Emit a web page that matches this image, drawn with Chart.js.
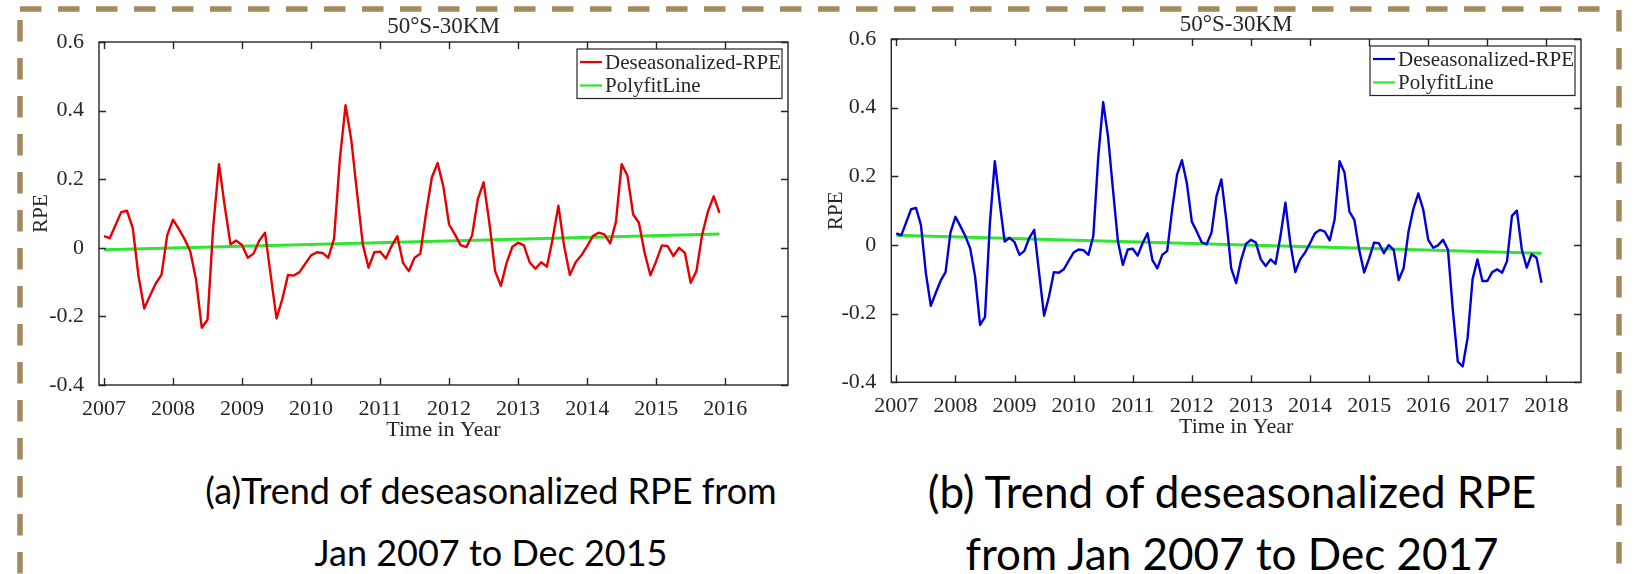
<!DOCTYPE html>
<html>
<head>
<meta charset="utf-8">
<title>Deseasonalized RPE trend</title>
<script src="https://cdn.jsdelivr.net/npm/chart.js@4.4.1/dist/chart.umd.min.js"></script>
<style>
  html, body { margin: 0; padding: 0; background: #fff; }
  body { width: 1638px; height: 574px; position: relative; overflow: hidden; }
  canvas { position: absolute; top: 0; }
  #frame { position: absolute; left: 0; top: 0; }
  .caption {
    position: absolute;
    font-family: Lato, "Open Sans", sans-serif;
    line-height: 62px;
    color: #000;
    text-align: center;
    white-space: nowrap;
    transform: translateX(-50%);
  }
  #capA { left: 491px; top: 459px; font-size: 36px; }
  #capB { left: 1232px; top: 460px; font-size: 44px; }
</style>
</head>
<body>
<svg id="frame" width="1638" height="574">
  <g stroke="#a38a5c" stroke-width="5.5" stroke-dasharray="21.5 16.5" fill="none">
    <line x1="20" y1="9" x2="1606" y2="9"/>
    <line x1="20" y1="20" x2="20" y2="574"/>
    <line x1="1619" y1="10" x2="1619" y2="574"/>
  </g>
</svg>

<canvas id="chartA" width="820" height="455" style="left:0px"></canvas>
<canvas id="chartB" width="818" height="455" style="left:820px"></canvas>

<div class="caption" id="capA">(a)Trend of deseasonalized RPE from<br>Jan 2007 to Dec 2015</div>
<div class="caption" id="capB">(b) Trend of deseasonalized RPE<br>from Jan 2007 to Dec 2017</div>

<script>
// monthly deseasonalized RPE at 50°S / 30 km, Jan 2007 .. Dec 2015
const rpe2007to2015 = [
   0.034,  0.028,  0.066,  0.104,  0.108,  0.058, -0.082, -0.177, -0.140, -0.104, -0.079,  0.037,
   0.082,  0.055,  0.026, -0.010, -0.092, -0.233, -0.210,  0.063,  0.244,  0.121,  0.010,  0.021,
   0.008, -0.029, -0.017,  0.021,  0.044, -0.082, -0.206, -0.150, -0.079, -0.081, -0.071, -0.046,
  -0.022, -0.013, -0.015, -0.029,  0.026,  0.256,  0.416,  0.314,  0.160,  0.010, -0.058, -0.013,
  -0.011, -0.031,  0.005,  0.034, -0.044, -0.068, -0.029, -0.017,  0.102,  0.205,  0.247,  0.179,
   0.068,  0.039,  0.008,  0.002,  0.036,  0.142,  0.191,  0.073, -0.068, -0.111, -0.044,  0.003,
   0.015,  0.007, -0.042, -0.061, -0.042, -0.055,  0.026,  0.123,  0.005, -0.079, -0.042, -0.022,
   0.005,  0.034,  0.044,  0.039,  0.013,  0.075,  0.244,  0.211,  0.097,  0.073, -0.015, -0.080,
  -0.039,  0.007,  0.005, -0.024,  0.000, -0.015, -0.102, -0.068,  0.039,  0.106,  0.150,  0.102
];
// Jan 2016 .. Dec 2017
const rpe2016to2017 = [
   0.015, -0.008, -0.001,  0.015, -0.013, -0.190, -0.340, -0.354, -0.270, -0.100, -0.042, -0.105,
  -0.105, -0.079, -0.071, -0.081, -0.047,  0.085,  0.100, -0.013, -0.066, -0.027, -0.037, -0.110
];

// end values of the fitted straight lines
const polyfitA = [-0.006, 0.040];
const polyfitB = [0.028, -0.024];

const startYear = 2007;
const yearTicksA = [2007, 2008, 2009, 2010, 2011, 2012, 2013, 2014, 2015, 2016];
const yearTicksB = [2007, 2008, 2009, 2010, 2011, 2012, 2013, 2014, 2015, 2016, 2017, 2018];
const rpeTicks = [-0.4, -0.2, 0, 0.2, 0.4, 0.6];
const rpeTickLabels = ['-0.4', '-0.2', '0', '0.2', '0.4', '0.6'];

const serif = '"Liberation Serif", "Times New Roman", serif';
const ink = '#262626';

function monthly(values) {
  return values.map((v, i) => ({ x: startYear + i / 12, y: v }));
}
function fitLine(values, ends) {
  const last = startYear + (values.length - 1) / 12;
  return [{ x: startYear, y: ends[0] }, { x: last, y: ends[1] }];
}

// axes box with inward ticks on all four sides
const boxTicks = {
  id: 'boxTicks',
  afterDatasetsDraw(chart) {
    const { ctx, chartArea: a, scales: { x, y } } = chart;
    const tl = 7;
    ctx.save();
    ctx.strokeStyle = ink;
    ctx.lineWidth = 1.4;
    ctx.strokeRect(a.left, a.top, a.right - a.left, a.bottom - a.top);
    ctx.beginPath();
    x.ticks.forEach(t => {
      const px = Math.round(x.getPixelForValue(t.value)) + 0.5;
      ctx.moveTo(px, a.bottom); ctx.lineTo(px, a.bottom - tl);
      ctx.moveTo(px, a.top); ctx.lineTo(px, a.top + tl);
    });
    y.ticks.forEach(t => {
      const py = Math.round(y.getPixelForValue(t.value)) + 0.5;
      ctx.moveTo(a.left, py); ctx.lineTo(a.left + tl, py);
      ctx.moveTo(a.right, py); ctx.lineTo(a.right - tl, py);
    });
    ctx.stroke();
    ctx.restore();
  }
};

// boxed legend in the upper right corner of the plot
const cornerLegend = {
  id: 'cornerLegend',
  afterDraw(chart) {
    const { ctx, chartArea: a } = chart;
    const w = 205, h = 49.5;
    const bx = a.right - 6 - w, by = a.top + 7;
    ctx.save();
    ctx.fillStyle = '#fff';
    ctx.fillRect(bx, by, w, h);
    ctx.strokeStyle = ink;
    ctx.lineWidth = 1.2;
    ctx.strokeRect(bx, by, w, h);
    ctx.font = '21px ' + serif;
    ctx.textBaseline = 'middle';
    chart.data.datasets.forEach((ds, i) => {
      const ry = by + 13 + i * 23.5;
      ctx.strokeStyle = ds.borderColor;
      ctx.lineWidth = 2.2;
      ctx.beginPath();
      ctx.moveTo(bx + 3, ry); ctx.lineTo(bx + 25, ry);
      ctx.stroke();
      ctx.fillStyle = ink;
      ctx.fillText(ds.label, bx + 28, ry + 1);
    });
    ctx.restore();
  }
};

function makeChart(id, opt) {
  const font = { family: serif, size: 22 };
  return new Chart(document.getElementById(id), {
    type: 'line',
    data: {
      datasets: [
        {
          label: 'Deseasonalized-RPE',
          data: monthly(opt.values),
          borderColor: opt.color,
          borderWidth: 2.4,
          pointRadius: 0,
          tension: 0,
          borderJoinStyle: 'round'
        },
        {
          label: 'PolyfitLine',
          data: fitLine(opt.values, opt.fit),
          borderColor: '#2ee62e',
          borderWidth: 3,
          pointRadius: 0
        }
      ]
    },
    options: {
      responsive: false,
      animation: false,
      devicePixelRatio: 1,
      layout: { padding: { left: 0, top: 0, bottom: 0, right: opt.padRight } },
      plugins: {
        legend: { display: false },
        tooltip: { enabled: false },
        title: {
          display: true,
          fullSize: false,
          text: '50°S-30KM',
          color: ink,
          font: { family: serif, size: 23, weight: 'normal', lineHeight: 1 },
          padding: { top: opt.titleTop, bottom: opt.titleBottom }
        }
      },
      scales: {
        x: {
          type: 'linear',
          min: opt.xMin,
          max: opt.xMax,
          afterBuildTicks: s => { s.ticks = opt.years.map(v => ({ value: v })); },
          afterFit: s => { s.height = opt.xHeight; },
          ticks: {
            font, color: ink, padding: 3, maxRotation: 0, autoSkip: false,
            callback: v => String(v)
          },
          grid: { display: false },
          border: { display: false },
          title: {
            display: true, text: 'Time in Year', color: ink,
            font: { family: serif, size: 22 },
            padding: { top: 0, bottom: opt.xTitleBottom }
          }
        },
        y: {
          type: 'linear',
          min: -0.4,
          max: 0.6,
          afterBuildTicks: s => { s.ticks = rpeTicks.map(v => ({ value: v })); },
          afterFit: s => { s.width = opt.yWidth; },
          ticks: {
            font, color: ink, padding: 7,
            callback: v => rpeTickLabels[rpeTicks.indexOf(v)]
          },
          grid: { display: false },
          border: { display: false },
          title: {
            display: true, text: 'RPE', color: ink,
            font: { family: serif, size: 21 },
            padding: { top: opt.yTitleTop, bottom: 0 }
          }
        }
      }
    },
    plugins: [boxTicks, cornerLegend]
  });
}

makeChart('chartA', {
  values: rpe2007to2015,
  fit: polyfitA,
  color: '#e60000',
  years: yearTicksA,
  xMin: 2006.928, xMax: 2016.91,
  padRight: 32, yWidth: 99, xHeight: 70,
  titleTop: 15, titleBottom: 4,
  xTitleBottom: 12, yTitleTop: 28.4
});

makeChart('chartB', {
  values: rpe2007to2015.concat(rpe2016to2017),
  fit: polyfitB,
  color: '#0000d8',
  years: yearTicksB,
  xMin: 2006.915, xMax: 2018.585,
  padRight: 57, yWidth: 71.3, xHeight: 72.7,
  titleTop: 13, titleBottom: 3,
  xTitleBottom: 15, yTitleTop: 3.9
});
</script>
</body>
</html>
